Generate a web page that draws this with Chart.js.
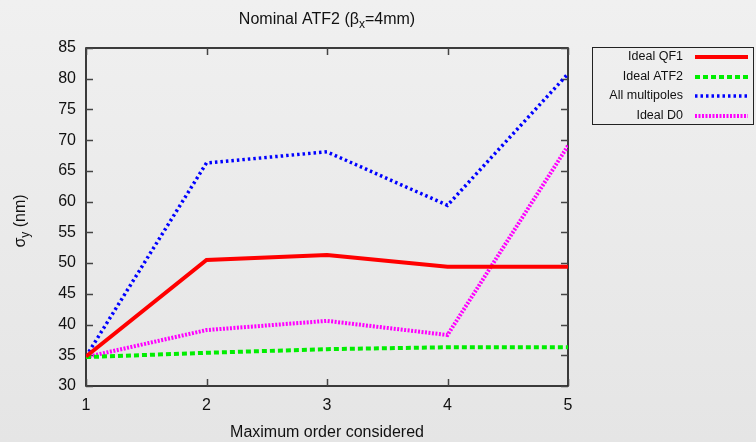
<!DOCTYPE html>
<html>
<head>
<meta charset="utf-8">
<script src="https://cdn.jsdelivr.net/npm/chart.js@4.4.1/dist/chart.umd.min.js"></script>
<style>
  html, body { margin: 0; padding: 0; background: #ececec; }
  #wrap { width: 756px; height: 442px; }
</style>
</head>
<body>
<div id="wrap"><canvas id="chart" width="756" height="442"></canvas></div>
<script>
// values
const orders = [1, 2, 3, 4, 5];
const idealQF1 = [34.8, 50.5, 51.3, 49.4, 49.4];
const idealATF2 = [34.7, 35.4, 36.0, 36.3, 36.3];
const allMultipoles = [34.8, 66.3, 68.1, 59.4, 80.8];
const idealD0 = [34.7, 39.1, 40.6, 38.3, 69.1];
const seriesNames = ['Ideal QF1', 'Ideal ATF2', 'All multipoles', 'Ideal D0'];
const xTicks = [1, 2, 3, 4, 5];
const yTicks = [30, 35, 40, 45, 50, 55, 60, 65, 70, 75, 80, 85];

const FONT = '"Liberation Sans", Arial, sans-serif';

const toPoints = vals => vals.map((v, i) => ({ x: orders[i], y: v }));

// gnuplot-like background, frame with inward ticks, title, y label and boxed legend
const decorations = {
    id: 'decorations',
    beforeDraw(chart) {
        const ctx = chart.ctx;
        const g = ctx.createLinearGradient(0, 0, 0, chart.height);
        g.addColorStop(0, '#f0f0f0');
        g.addColorStop(1, '#e5e5e5');
        ctx.save();
        ctx.fillStyle = g;
        ctx.fillRect(0, 0, chart.width, chart.height);
        ctx.restore();
    },
    beforeDatasetsDraw(chart) {
        const { ctx, chartArea: a, scales } = chart;
        ctx.save();
        ctx.strokeStyle = '#000';
        ctx.lineWidth = 1.5;
        ctx.strokeRect(a.left, a.top, a.right - a.left, a.bottom - a.top);
        ctx.strokeStyle = '#444';
        ctx.lineWidth = 1.5;
        ctx.beginPath();
        xTicks.forEach(t => {
            const px = Math.round(scales.x.getPixelForValue(t)) + 0.5;
            ctx.moveTo(px, a.bottom); ctx.lineTo(px, a.bottom - 7);
            ctx.moveTo(px, a.top); ctx.lineTo(px, a.top + 7);
        });
        yTicks.forEach(t => {
            const py = Math.round(scales.y.getPixelForValue(t)) + 0.5;
            ctx.moveTo(a.left, py); ctx.lineTo(a.left + 7, py);
            ctx.moveTo(a.right, py); ctx.lineTo(a.right - 7, py);
        });
        ctx.stroke();
        ctx.restore();
    },
    afterDraw(chart) {
        const { ctx, chartArea: a } = chart;
        ctx.save();
        ctx.fillStyle = '#111';
        ctx.textBaseline = 'alphabetic';

        // title with subscript
        const big = '16px ' + FONT, small = '12px ' + FONT;
        const parts = [['Nominal ATF2 (\u03b2', big, 0], ['x', small, 4], ['=4mm)', big, 0]];
        let total = 0;
        parts.forEach(p => { ctx.font = p[1]; total += ctx.measureText(p[0]).width; });
        let x = (a.left + a.right) / 2 - total / 2;
        ctx.textAlign = 'left';
        parts.forEach(p => {
            ctx.font = p[1];
            ctx.fillText(p[0], x, 24 + p[2]);
            x += ctx.measureText(p[0]).width;
        });

        // y axis label, rotated, with subscript
        ctx.save();
        ctx.translate(25, (a.top + a.bottom) / 2 + 4);
        ctx.rotate(-Math.PI / 2);
        const yparts = [['\u03c3', big, 0], ['y', small, 4], [' (nm)', big, 0]];
        total = 0;
        yparts.forEach(p => { ctx.font = p[1]; total += ctx.measureText(p[0]).width; });
        x = -total / 2;
        yparts.forEach(p => {
            ctx.font = p[1];
            ctx.fillText(p[0], x, p[2]);
            x += ctx.measureText(p[0]).width;
        });
        ctx.restore();

        // legend box
        ctx.strokeStyle = '#222';
        ctx.lineWidth = 1;
        ctx.strokeRect(592.5, 47.5, 161, 77);
        ctx.font = '12.5px ' + FONT;
        ctx.textAlign = 'right';
        ctx.textBaseline = 'middle';
        chart.data.datasets.forEach((ds, i) => {
            const y = Math.round(57 + i * 19.5);
            ctx.fillStyle = '#111';
            ctx.fillText(ds.label, 683, y);
            ctx.strokeStyle = ds.borderColor;
            ctx.lineWidth = ds.borderWidth;
            ctx.setLineDash(ds.borderDash || []);
            ctx.beginPath();
            ctx.moveTo(695, y);
            ctx.lineTo(748, y);
            ctx.stroke();
        });
        ctx.restore();
    }
};

new Chart(document.getElementById('chart'), {
    type: 'line',
    data: {
        datasets: [
            {
                label: seriesNames[0],
                data: toPoints(idealQF1),
                borderColor: '#ff0000',
                borderWidth: 4,
            },
            {
                label: seriesNames[1],
                data: toPoints(idealATF2),
                borderColor: '#00ee00',
                borderWidth: 4,
                borderDash: [5, 3],
            },
            {
                label: seriesNames[2],
                data: toPoints(allMultipoles),
                borderColor: '#0000ff',
                borderWidth: 3.5,
                borderDash: [2.5, 3],
            },
            {
                label: seriesNames[3],
                data: toPoints(idealD0),
                borderColor: '#ff00ff',
                borderWidth: 4,
                borderDash: [2, 1.5],
            },
        ].map(ds => Object.assign(ds, { pointRadius: 0, tension: 0, fill: false, borderCapStyle: 'butt' })),
    },
    options: {
        responsive: false,
        animation: false,
        layout: { padding: { left: 0, top: 48, right: 188, bottom: 0 } },
        plugins: {
            legend: { display: false },
            title: { display: false },
            tooltip: { enabled: false },
        },
        scales: {
            x: {
                type: 'linear',
                min: 1,
                max: 5,
                afterBuildTicks: s => { s.ticks = xTicks.map(v => ({ value: v })); },
                ticks: { color: '#111', font: { family: FONT, size: 16 }, padding: 10 },
                grid: { display: false, drawTicks: false },
                border: { display: false },
                title: {
                    display: true,
                    text: 'Maximum order considered',
                    color: '#111',
                    font: { family: FONT, size: 16 },
                    padding: { top: 0, bottom: 0 },
                },
                afterFit: s => { s.height = 56; },
            },
            y: {
                min: 30,
                max: 85,
                afterBuildTicks: s => { s.ticks = yTicks.map(v => ({ value: v })); },
                ticks: { color: '#111', font: { family: FONT, size: 16 }, padding: 10 },
                grid: { display: false, drawTicks: false },
                border: { display: false },
                afterFit: s => { s.width = 86; },
            },
        },
    },
    plugins: [decorations],
});
</script>
</body>
</html>
